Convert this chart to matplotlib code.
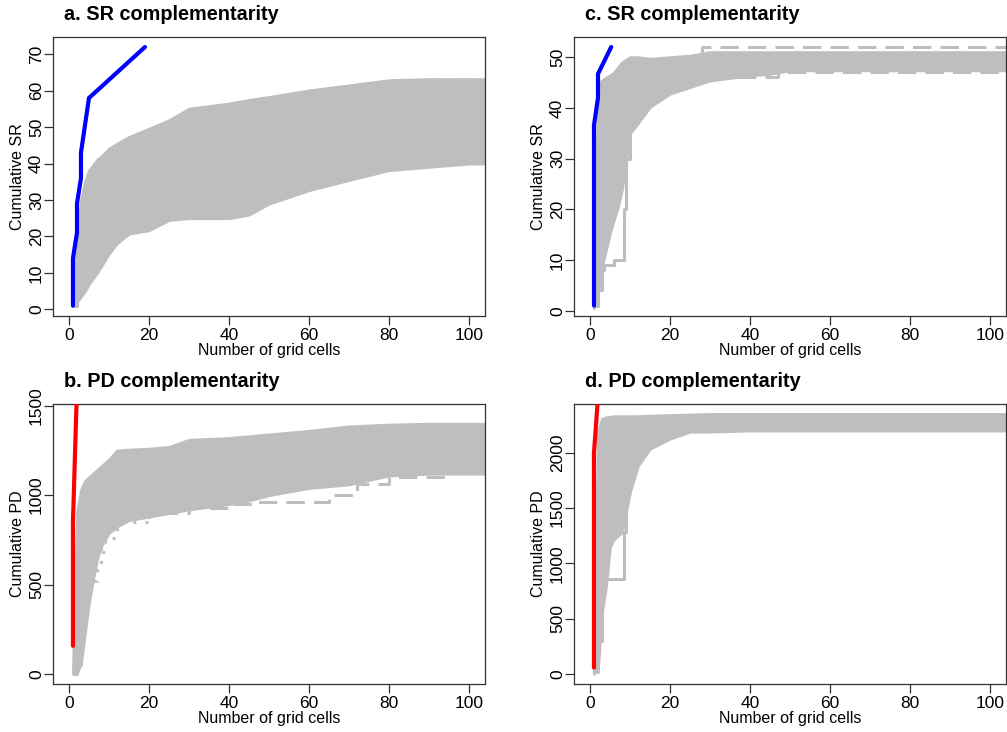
import matplotlib
matplotlib.use('Agg')
import matplotlib.pyplot as plt

plt.rcParams['font.family'] = ['Liberation Sans', 'DejaVu Sans']

GREY = '#bebebe'

# common x grid (number of grid cells) for the envelope of the random runs
x_grid = [1, 2, 3, 4, 5, 6, 7, 8, 10, 12, 15, 20, 25, 30, 40, 45, 50, 60, 70, 80, 90, 100, 104]

# a. SR complementarity
a_low = [1, 2, 3.5, 5, 7, 8.5, 10, 11.7, 15.3, 18.1, 20.8, 21.7, 24.5, 25, 25, 26, 29, 32.7, 35.5, 38.2, 39.1, 40, 40]
a_up = [3, 21.7, 30, 35, 38.2, 39.5, 41, 41.9, 44.1, 45.5, 47.3, 49.6, 51.9, 55.1, 56.5, 57.5, 58.3, 60.1, 61.5, 62.9, 63.2, 63.2, 63.2]
a_best_x = [1, 1, 2, 2, 3, 3, 5, 12, 19]
a_best_y = [1, 14, 21, 29, 36, 43, 58, 65, 72]

# b. PD complementarity
b_low = [0, 5, 60, 230, 400, 525, 640, 712, 790, 825, 860, 880, 900, 920, 950, 970, 1000, 1040, 1060, 1110, 1120, 1120, 1120]
b_up = [30, 900, 1030, 1080, 1100, 1120, 1140, 1160, 1200, 1250, 1255, 1260, 1270, 1310, 1320, 1330, 1340, 1360, 1385, 1395, 1400, 1400, 1400]
b_best_x = [1, 1, 2]
b_best_y = [157, 850, 1600]

# c. SR complementarity
c_low = [0.5, 3.5, 8.7, 12, 15.3, 18, 20.5, 24, 35, 37, 40.2, 42.8, 44.1, 45.4, 46.4, 46.7, 47.4, 47.4, 47.4, 47.4, 47.4, 47.4, 47.4]
c_up = [3, 44.8, 45.4, 46, 46.4, 47, 48, 49, 50, 50, 49.7, 50, 50.3, 51, 51, 51, 51, 51, 51, 51, 51, 51, 51]
c_best_x = [1, 1, 2, 2, 5.3]
c_best_y = [1, 36.6, 42, 46.7, 52]

# d. PD complementarity
d_low = [0, 60, 555, 790, 1150, 1218, 1250, 1280, 1645, 1882, 2036, 2127, 2190, 2190, 2200, 2200, 2200, 2200, 2200, 2200, 2200, 2200, 2200]
d_up = [100, 2190, 2309, 2320, 2325, 2330, 2330, 2330, 2330, 2330, 2335, 2340, 2345, 2350, 2350, 2350, 2350, 2350, 2350, 2350, 2350, 2350, 2350]
d_best_x = [1, 1, 2]
d_best_y = [57, 2000, 2500]

# a few individual runs on the edges of the cloud (x, y, linestyle)
a_runs = [
    ([1, 2, 3, 5, 10, 20, 30, 50, 60, 70, 80, 90, 104], [1, 20, 29, 37, 44, 48, 53, 57, 59, 61, 63, 63, 63], (0, (6, 3))),
]
b_runs = [
    ([1, 2, 3, 5, 8, 12, 20, 30, 40, 46, 65, 72, 80, 95, 104], [0, 150, 400, 700, 820, 880, 900, 930, 950, 960, 1000, 1060, 1100, 1150, 1150], (0, (6, 3))),
    ([1, 3, 5, 7, 8, 9, 12, 20], [20, 450, 520, 600, 680, 760, 850, 1000], (0, (1, 3))),
]
c_runs = [
    ([1, 2, 3, 5, 10, 20, 28, 104], [1, 10, 30, 44, 48, 50, 52, 52], (0, (6, 3))),
    ([1, 2, 3, 3.5, 6, 8.5, 9, 10], [1, 4, 8, 9, 10, 20, 30, 36], '-'),
    ([30, 47, 98, 104], [46, 47, 47, 49], (0, (6, 3))),
]
d_runs = [
    ([1, 2, 3, 3.5, 8.5, 9], [20, 300, 700, 855, 1280, 1600], '-'),
    ([1, 2, 3, 5, 10, 20, 30, 104], [50, 1500, 2100, 2200, 2250, 2280, 2290, 2290], (0, (6, 3))),
]

panels = [
    ('a. SR complementarity', 'Cumulative SR', a_low, a_up, a_runs, a_best_x, a_best_y, 'blue',
     (-1.84, 74.84), range(0, 71, 10), [0.0526, 0.5683, 0.4290, 0.3816]),
    ('c. SR complementarity', 'Cumulative SR', c_low, c_up, c_runs, c_best_x, c_best_y, 'blue',
     (-1.04, 54.04), range(0, 51, 10), [0.5700, 0.5683, 0.4290, 0.3816]),
    ('b. PD complementarity', 'Cumulative PD', b_low, b_up, b_runs, b_best_x, b_best_y, 'red',
     (-58, 1510), range(0, 1501, 500), [0.0526, 0.0652, 0.4290, 0.3829]),
    ('d. PD complementarity', 'Cumulative PD', d_low, d_up, d_runs, d_best_x, d_best_y, 'red',
     (-94, 2440), range(0, 2001, 500), [0.5700, 0.0652, 0.4290, 0.3829]),
]

fig = plt.figure(figsize=(10.07, 7.32), dpi=100)

for title, ylab, low, up, runs, bx, by, col, ylim, yt, pos in panels:
    ax = fig.add_axes(pos)
    ax.fill_between(x_grid, low, up, color=GREY, lw=2, edgecolor=GREY)
    for rx, ry, ls in runs:
        ax.step(rx, ry, where='post', color=GREY, lw=2.2, linestyle=ls)
    ax.plot(bx, by, color=col, lw=3, solid_capstyle='round', zorder=5)

    ax.set_xlim(-4, 104)
    ax.set_ylim(*ylim)
    ax.set_xticks(range(0, 101, 20))
    ax.set_yticks(list(yt))
    ax.tick_params(direction='out', length=6.5, width=0.9, color='#333333', labelsize=12.5, pad=2)
    ax.tick_params(axis='y', pad=0)
    plt.setp(ax.get_yticklabels(), rotation=90, va='center')
    for s in ax.spines.values():
        s.set_color('#333333')
        s.set_linewidth(0.9)
    ax.set_xlabel('Number of grid cells', fontsize=11.5, labelpad=0)
    ax.set_ylabel(ylab, fontsize=11.5, labelpad=3)
    ax.text(0.025, 1.045, title, transform=ax.transAxes, fontsize=14.3, fontweight='bold', ha='left', va='bottom')

fig.savefig('out.png', dpi=100)
